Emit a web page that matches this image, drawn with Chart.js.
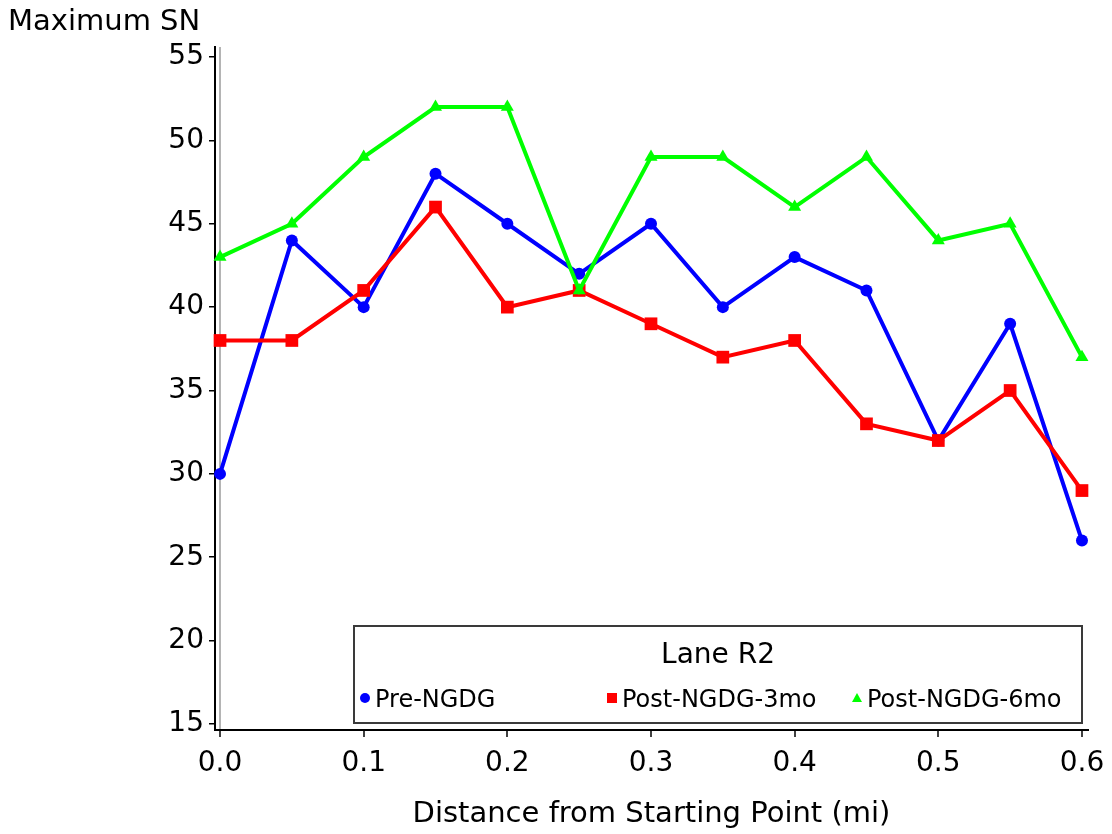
<!DOCTYPE html>
<html><head><meta charset="utf-8">
<script src="https://cdn.jsdelivr.net/npm/chart.js@4/dist/chart.umd.min.js"></script>
<style>html,body{margin:0;padding:0;background:#fff}#wrap{width:1112px;height:834px}canvas{display:block}</style>
</head><body><div id="wrap"><canvas id="c" width="1112" height="834"></canvas></div>
<script>
const distances = [0, 0.05, 0.1, 0.15, 0.2, 0.25, 0.3, 0.35, 0.4, 0.45, 0.5, 0.55, 0.6];
const preNGDG  = [30, 44, 40, 48, 45, 42, 45, 40, 43, 41, 32, 39, 26];
const post3mo  = [38, 38, 41, 46, 40, 41, 39, 37, 38, 33, 32, 35, 29];
const post6mo  = [43, 45, 49, 52, 52, 41, 49, 49, 46, 49, 44, 45, 37];
const xTickValues = [0, 0.1, 0.2, 0.3, 0.4, 0.5, 0.6];
const yTickValues = [15, 20, 25, 30, 35, 40, 45, 50, 55];
const seriesNames = ['Pre-NGDG', 'Post-NGDG-3mo', 'Post-NGDG-6mo'];
const legendTitle = 'Lane R2';
const yAxisTitle = 'Maximum SN';
const xAxisTitle = 'Distance from Starting Point (mi)';

const FONT = '"DejaVu Sans", Verdana, sans-serif';
const toPts = arr => arr.map((v, i) => ({x: distances[i], y: v}));

function marker(ctx, style, x, y, s) {
  ctx.beginPath();
  if (style === 'circle') { ctx.arc(x, y, s, 0, Math.PI * 2); }
  else if (style === 'rect') { ctx.rect(x - s, y - s, 2 * s, 2 * s); }
  else { ctx.moveTo(x, y - s); ctx.lineTo(x + s, y + s * 0.8); ctx.lineTo(x - s, y + s * 0.8); ctx.closePath(); }
  ctx.fill();
}

const overlay = {
  id: 'overlay',
  afterDraw(chart) {
    const ctx = chart.ctx, a = chart.chartArea;
    ctx.save();
    ctx.fillStyle = '#000';
    ctx.font = '29px ' + FONT;
    ctx.textAlign = 'left';
    ctx.textBaseline = 'alphabetic';
    ctx.fillText(yAxisTitle, 8, 30);

    const L = 354, R = 1082, T = 626, B = 723;
    ctx.fillStyle = '#fff';
    ctx.fillRect(L, T, R - L, B - T);
    ctx.strokeStyle = '#3a3a3a';
    ctx.lineWidth = 2;
    ctx.strokeRect(L, T, R - L, B - T);
    ctx.fillStyle = '#000';
    ctx.font = '28px ' + FONT;
    ctx.textAlign = 'center';
    ctx.fillText(legendTitle, (L + R) / 2, T + 37);
    ctx.font = '24px ' + FONT;
    ctx.textAlign = 'left';
    const markerX = [11, 258, 503];
    chart.data.datasets.forEach((ds, i) => {
      const mx = L + markerX[i], my = T + 72;
      ctx.fillStyle = ds.borderColor;
      marker(ctx, ds.pointStyle, mx, my, 5);
      ctx.fillStyle = '#000';
      ctx.fillText(ds.label, mx + 10, T + 81);
    });
    ctx.restore();
  }
};

const colors = ['#0000ff', '#ff0000', '#00ff00'];
const styles = ['circle', 'rect', 'triangle'];
const radii = [6, 9, 7.5];
const series = [preNGDG, post3mo, post6mo];

new Chart(document.getElementById('c'), {
  type: 'line',
  data: {
    datasets: series.map((s, i) => ({
      label: seriesNames[i],
      data: toPts(s),
      borderColor: colors[i],
      backgroundColor: colors[i],
      pointBackgroundColor: colors[i],
      pointBorderColor: colors[i],
      pointBorderWidth: 0,
      pointStyle: styles[i],
      pointRadius: radii[i],
      borderWidth: 4,
      tension: 0,
      fill: false,
      clip: false,
      order: 2 - i
    }))
  },
  options: {
    responsive: false,
    animation: false,
    events: [],
    layout: {padding: {top: 47, right: 24, left: 0, bottom: 0}},
    plugins: {legend: {display: false}, tooltip: {enabled: false}, title: {display: false}},
    scales: {
      x: {
        type: 'linear', min: -0.0035, max: 0.6042,
        afterBuildTicks: s => { s.ticks = xTickValues.map(v => ({value: v})); },
        afterFit: s => { s.height = 104; s.paddingLeft = 0; s.paddingRight = 0; },
        border: {display: true, color: '#000', width: 2},
        grid: {
          display: true, drawOnChartArea: true,
          color: c => (c.tick && Math.abs(c.tick.value) < 1e-9) ? '#b4b4b4' : 'rgba(0,0,0,0)',
          lineWidth: 2, tickColor: '#000', tickWidth: 1.5, tickLength: 7
        },
        ticks: {color: '#000', font: {family: FONT, size: 28}, padding: 10, maxRotation: 0, autoSkip: false,
          callback: v => Number(v).toFixed(1)},
        title: {display: true, text: xAxisTitle, color: '#000', font: {family: FONT, size: 29}, padding: {top: 0, bottom: 2}}
      },
      y: {
        type: 'linear', min: 14.64, max: 55.6,
        afterBuildTicks: s => { s.ticks = yTickValues.map(v => ({value: v})); },
        afterFit: s => { s.width = 215; s.paddingTop = 0; s.paddingBottom = 0; },
        border: {display: true, color: '#000', width: 2},
        grid: {display: true, drawOnChartArea: false, color: '#000', lineWidth: 1.5, tickLength: 6},
        ticks: {color: '#000', font: {family: FONT, size: 28}, padding: 5, autoSkip: false,
          callback: v => String(v)}
      }
    }
  },
  plugins: [overlay]
});
</script>
</body></html>
